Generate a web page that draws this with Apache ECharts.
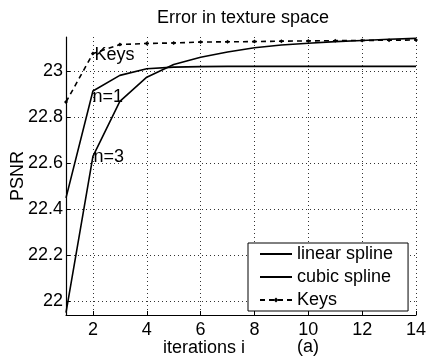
<!DOCTYPE html>
<html>
<head>
<meta charset="utf-8">
<script src="https://cdn.jsdelivr.net/npm/echarts@6/dist/echarts.min.js"></script>
<style>html,body{margin:0;padding:0;background:#fff}#c{width:426px;height:358px}</style>
</head>
<body>
<div id="c"></div>
<script>
const iterations = [1,2,3,4,5,6,7,8,9,10,11,12,13,14];
const linearSpline = [22.45,22.915,22.983,23.012,23.019,23.021,23.022,23.022,23.022,23.022,23.022,23.022,23.022,23.022];
const cubicSpline = [21.95,22.63,22.87,22.975,23.03,23.062,23.085,23.103,23.115,23.123,23.13,23.135,23.14,23.144];
const keys = [22.867,23.078,23.117,23.122,23.124,23.128,23.129,23.13,23.132,23.133,23.134,23.135,23.136,23.137];
const xTicks = [2,4,6,8,10,12,14];
const yTicks = [22,22.2,22.4,22.6,22.8,23];
const seriesNames = ['linear spline','cubic spline','Keys'];
const pointLabels = {linear:'n=1', cubic:'n=3', keys:'Keys'};

const font = 'Liberation Sans, Arial, sans-serif';
function labelMark(vals, text, offset){
  return {
    symbol:'circle', symbolSize:1, itemStyle:{color:'rgba(0,0,0,0)'},
    label:{show:true, position:'right', distance:0, offset:offset, formatter:text,
      color:'#000', fontSize:18, fontFamily:font},
    data:[{coord:[iterations[1], vals[1]]}]
  };
}
const chart = echarts.init(document.getElementById('c'), null, {renderer:'canvas'});
chart.setOption({
  animation:false,
  backgroundColor:'#fff',
  title:{text:'Error in texture space', left:152, top:4,
    textStyle:{fontSize:18, fontWeight:'normal', color:'#000', fontFamily:font}},
  grid:{left:66, right:10, top:37, bottom:43, outerBoundsMode:'none', containLabel:false},
  legend:{
    data:[
      {name:seriesNames[0], itemStyle:{color:'rgba(0,0,0,0)', borderColor:'rgba(0,0,0,0)'}},
      {name:seriesNames[1], itemStyle:{color:'rgba(0,0,0,0)', borderColor:'rgba(0,0,0,0)'}},
      {name:seriesNames[2]}
    ],
    orient:'vertical', left:248, top:243,
    backgroundColor:'#fff', borderColor:'#000', borderWidth:1, borderRadius:0,
    padding:[2,15,2,11], itemWidth:32, itemHeight:6, itemGap:5,
    textStyle:{fontSize:18, color:'#000', fontFamily:font, lineHeight:18}
  },
  xAxis:{type:'value', min:1, max:14,
    name:'iterations i', nameLocation:'middle', nameGap:24, nameMoveOverlap:false,
    nameTextStyle:{fontSize:18, color:'#000', fontFamily:font, padding:[0,0,0,-74]},
    axisLine:{show:true, lineStyle:{color:'#000', width:1.2}},
    axisTick:{show:true, inside:true, length:4, customValues:xTicks, lineStyle:{color:'#000'}},
    axisLabel:{customValues:xTicks, color:'#000', fontSize:18, fontFamily:font, margin:6},
    splitLine:{show:true, lineStyle:{color:'#333', type:[1,3], width:1}}
  },
  yAxis:{type:'value', min:21.94, max:23.15,
    name:'PSNR', nameLocation:'middle', nameGap:39, nameMoveOverlap:false,
    nameTextStyle:{fontSize:18, color:'#000', fontFamily:font},
    axisLine:{show:true, lineStyle:{color:'#000', width:1.2}},
    axisTick:{show:true, inside:true, length:4, customValues:yTicks, lineStyle:{color:'#000'}},
    axisLabel:{customValues:yTicks, color:'#000', fontSize:18, fontFamily:font, margin:3,
      formatter:v=>String(Math.round(v*10)/10)},
    splitLine:{show:true, lineStyle:{color:'#333', type:[1,3], width:1}}
  },
  graphic:[{type:'text', left:297, top:338,
    style:{text:'(a)', fontSize:18, fontFamily:font, fill:'#000'}}],
  series:[
    {name:seriesNames[0], type:'line', data:iterations.map((x,i)=>[x, linearSpline[i]]),
      symbol:'none', lineStyle:{color:'#000', width:1.6}, itemStyle:{color:'#000'}, z:3,
      markPoint:labelMark(linearSpline, pointLabels.linear, [-1,6])},
    {name:seriesNames[1], type:'line', data:iterations.map((x,i)=>[x, cubicSpline[i]]),
      symbol:'none', lineStyle:{color:'#000', width:1.6}, itemStyle:{color:'#000'}, z:3,
      markPoint:labelMark(cubicSpline, pointLabels.cubic, [0,1])},
    {name:seriesNames[2], type:'line', data:iterations.map((x,i)=>[x, keys[i]]),
      symbol:'diamond', symbolSize:4, showSymbol:true,
      lineStyle:{color:'#000', width:1.6, type:[5,4]}, itemStyle:{color:'#000'}, z:4,
      markPoint:labelMark(keys, pointLabels.keys, [1,1])}
  ]
});
</script>
</body>
</html>
